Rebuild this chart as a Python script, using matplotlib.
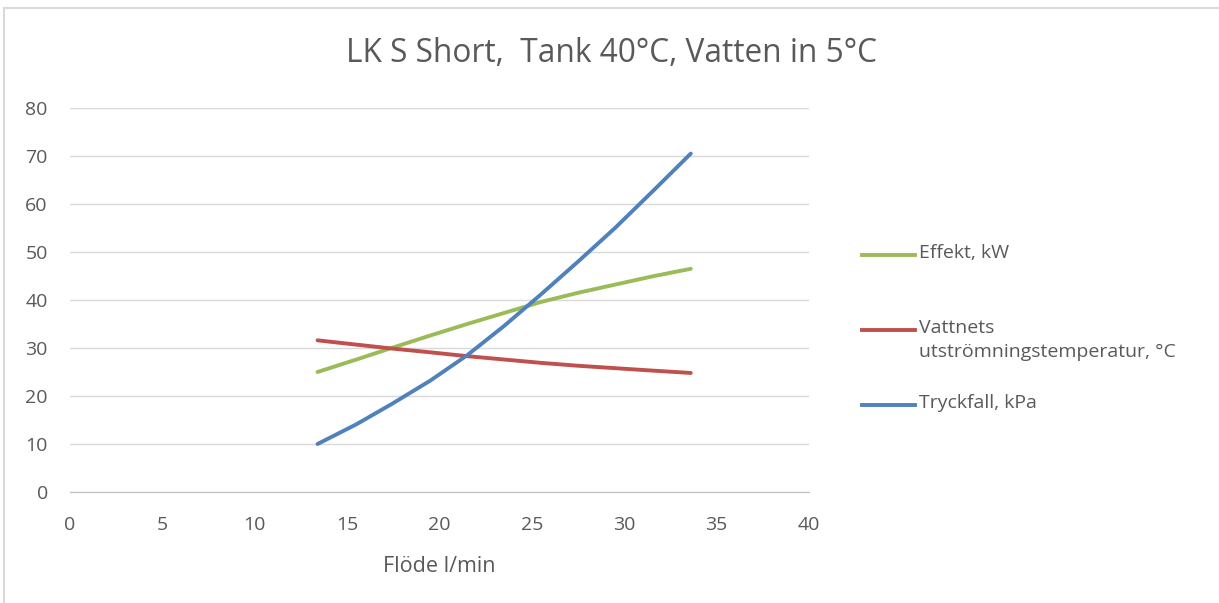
import numpy as np
import matplotlib.pyplot as plt
from matplotlib.patches import Rectangle
from matplotlib.lines import Line2D

# values
flow = [13.4, 15.5, 17.4, 19.5, 21.5, 23.5, 25.5, 27.5, 29.5, 31.5, 33.6]
effekt = [25.0, 27.6, 30.0, 32.6, 35.0, 37.3, 39.6, 41.5, 43.2, 44.9, 46.5]
utstr_temp = [31.6, 30.7, 29.9, 29.1, 28.3, 27.6, 26.9, 26.3, 25.8, 25.3, 24.8]
tryckfall = [10.0, 14.1, 18.3, 23.2, 28.5, 34.6, 41.2, 48.0, 55.0, 62.5, 70.5]

labels = ["Effekt, kW", "Vattnets\nutströmningstemperatur, °C", "Tryckfall, kPa"]
colors = ["#9bbb59", "#c0504d", "#4f81bd"]

plt.rcParams["font.family"] = ["Open Sans", "DejaVu Sans"]
txt = "#595959"
W, H = 1219, 603

fig = plt.figure(figsize=(12.19, 6.03), dpi=100)
ax = fig.add_axes([70 / W, 1 - 492 / H, 739 / W, 384 / H])

# outer chart border (only top/left visible in the crop)
fig.patches.append(Rectangle((4 / W, -0.1), 1.2, 1 - 8 / H + 0.1,
                             transform=fig.transFigure, fill=False,
                             edgecolor="#d9d9d9", lw=1.5))

for y, c in zip([effekt, utstr_temp, tryckfall], colors):
    ax.plot(flow, y, color=c, lw=2.8, solid_capstyle="round",
            solid_joinstyle="round")

ax.set_xlim(0, 40)
ax.set_ylim(0, 80)
ax.set_xticks(np.arange(0, 41, 5))
ax.set_yticks(np.arange(0, 81, 10))
ax.grid(axis="y", color="#d9d9d9", lw=1)
ax.set_axisbelow(True)
for s in ["top", "right", "left"]:
    ax.spines[s].set_visible(False)
ax.spines["bottom"].set_color("#bfbfbf")
ax.tick_params(length=0, labelsize=14, colors=txt)
ax.tick_params(axis="x", pad=17)
ax.tick_params(axis="y", pad=16)

ax.set_xlabel("Flöde l/min", fontsize=15.5, color=txt, labelpad=16)
fig.text(612 / W, 1 - 54 / H, "LK S Short,  Tank 40°C, Vatten in 5°C",
         ha="center", va="center", fontsize=22.8, color=txt)

# legend, laid out like the Excel one
leg_y = [255, 330, 405]
for yy, lab, c in zip(leg_y, labels, colors):
    fig.add_artist(Line2D([862 / W, 915 / W], [1 - yy / H] * 2, color=c,
                          lw=2.8, transform=fig.transFigure))
    fig.text(919 / W, 1 - (yy - 11) / H, lab, ha="left", va="top",
             fontsize=14, color=txt, linespacing=1.45)

fig.savefig("out.png", dpi=100)
